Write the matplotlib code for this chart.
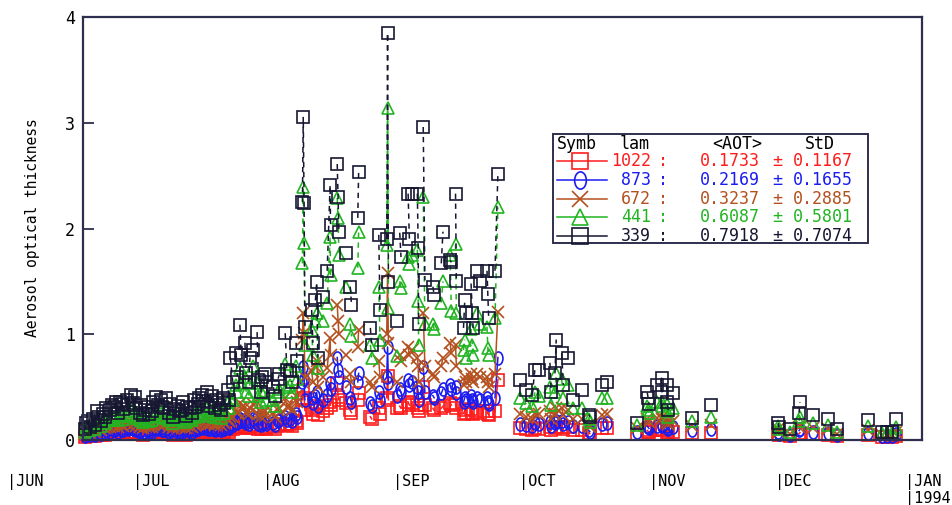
import numpy as np
import matplotlib
matplotlib.use("Agg")
import matplotlib.pyplot as plt
from matplotlib.path import Path
from matplotlib.transforms import Affine2D

# observation time, days since 1993-06-01 (fraction = time of day)
obs_day = [
    # Jun - Jul
    17.4, 17.7, 18.5, 19.4, 19.7, 20.5, 21.3, 21.7, 22.5, 23.3,
    23.7, 24.4, 25.3, 25.7, 26.5, 27.3, 27.6, 28.4, 29.3, 29.6,
    30.4, 31.3, 31.7, 32.4, 33.3, 34.4, 34.7, 35.5, 36.3, 37.4,
    38.3, 38.7, 39.5, 40.4, 41.4, 42.5, 43.4, 44.3, 45.3, 45.6,
    46.5, 47.4, 48.3, 49.4, 50.3, 51.5, 52.0, 52.6, 53.4, 54.3,
    54.6, 55.5, 55.8, 56.7, 57.4, 58.4, 58.7, 59.6, 60.6,
    # Aug - Sep
    62.3, 62.6, 63.4, 63.7, 65.1, 65.5, 66.3, 66.6, 67.7, 67.9,
    69.2, 69.4, 69.6, 69.8, 71.4, 71.7, 72.3, 72.6, 72.9, 74.1,
    75.1, 75.8, 75.9, 77.5, 77.7, 77.9, 79.6, 80.6, 80.9, 82.4,
    82.6, 85.4, 85.7, 87.4, 87.7, 89.3, 89.5, 89.7, 91.8, 92.4,
    92.7, 94.4, 94.7, 95.3, 96.6, 96.8, 96.9, 98.0, 98.4, 100.3,
    100.6, 102.3, 102.7, 104.4, 104.7, 105.7, 105.9, 107.6, 107.9, 108.2,
    109.4, 109.7, 109.9, 110.8, 111.5, 113.2, 113.4, 113.6, 115.1, 115.8,
    # Oct
    121.1, 122.5, 124.0, 124.6, 125.7, 128.2, 128.5, 129.4, 129.7, 131.0,
    131.4, 132.5, 133.7, 135.8, 137.5, 137.7, 140.6, 141.8,
    # Nov
    149.0, 151.4, 151.6, 151.8, 153.7, 154.8, 154.9, 156.0, 156.2, 156.4,
    157.5, 162.1, 166.6,
    # Dec
    182.6, 182.8, 185.4, 187.6, 187.8, 190.9, 194.5, 196.6, 204.0, 207.3,
    208.5, 209.7, 210.7,
    # more Jun - Jul readings
    18.2, 20.2, 22.2, 24.7, 26.2, 28.7, 30.7, 32.7, 33.6, 35.8,
    36.6, 37.7, 39.8, 40.7, 41.7, 42.8, 43.7, 44.6, 46.8, 47.7,
    48.6, 49.7, 50.6, 51.8, 53.7, 56.4, 59.3, 60.3,
]

aot_339 = [
    0.10, 0.16, 0.12, 0.20, 0.14, 0.22, 0.18, 0.25, 0.30, 0.28,
    0.33, 0.31, 0.26, 0.36, 0.29, 0.38, 0.33, 0.43, 0.41, 0.30,
    0.26, 0.24, 0.28, 0.31, 0.27, 0.41, 0.33, 0.38, 0.30, 0.26,
    0.22, 0.29, 0.32, 0.28, 0.23, 0.30, 0.38, 0.34, 0.43, 0.37,
    0.45, 0.36, 0.30, 0.33, 0.40, 0.47, 0.78, 0.55, 0.82, 1.09,
    0.80, 0.92, 0.63, 0.78, 0.85, 1.02, 0.57, 0.60, 0.55,
    0.50, 0.42, 0.58, 0.62, 1.01, 0.66, 0.65, 0.55, 0.92, 0.75,
    2.25, 3.05, 2.24, 1.07, 1.23, 0.92, 1.32, 1.49, 0.78, 1.35,
    1.60, 2.41, 2.03, 2.61, 2.30, 1.97, 1.77, 1.45, 1.28, 2.10,
    2.53, 1.06, 0.90, 1.94, 1.23, 1.90, 3.85, 1.49, 1.13, 1.96,
    1.73, 2.33, 1.90, 2.33, 2.33, 1.82, 1.10, 2.96, 1.51, 1.45,
    1.37, 1.67, 1.97, 1.70, 1.68, 2.33, 1.50, 1.06, 1.32, 1.20,
    1.48, 1.20, 1.06, 1.60, 1.50, 1.60, 1.38, 1.15, 1.60, 2.52,
    0.57, 0.47, 0.43, 0.66, 0.66, 0.73, 0.45, 0.63, 0.95, 0.82,
    0.52, 0.78, 0.38, 0.47, 0.24, 0.22, 0.52, 0.55,
    0.16, 0.45, 0.40, 0.34, 0.52, 0.59, 0.45, 0.52, 0.36, 0.28,
    0.44, 0.21, 0.33,
    0.16, 0.12, 0.10, 0.26, 0.36, 0.24, 0.20, 0.10, 0.19, 0.08,
    0.08, 0.08, 0.20,
    0.18, 0.27, 0.22, 0.36, 0.34, 0.35, 0.33, 0.25, 0.36, 0.31,
    0.40, 0.34, 0.27, 0.36, 0.31, 0.26, 0.31, 0.40, 0.32, 0.42,
    0.38, 0.28, 0.35, 0.38, 0.60, 0.55, 0.45, 0.62,
]

aot_441 = [
    0.08, 0.12, 0.09, 0.14, 0.10, 0.16, 0.13, 0.18, 0.20, 0.19,
    0.22, 0.21, 0.19, 0.24, 0.20, 0.25, 0.23, 0.28, 0.27, 0.21,
    0.19, 0.17, 0.20, 0.22, 0.19, 0.27, 0.23, 0.26, 0.21, 0.19,
    0.16, 0.20, 0.22, 0.20, 0.17, 0.21, 0.25, 0.24, 0.29, 0.26,
    0.30, 0.25, 0.22, 0.25, 0.30, 0.36, 0.40, 0.38, 0.52, 0.68,
    0.54, 0.60, 0.45, 0.54, 0.70, 0.54, 0.42, 0.44, 0.38,
    0.38, 0.32, 0.45, 0.48, 0.72, 0.50, 0.52, 0.45, 0.70, 0.58,
    1.67, 2.39, 1.86, 0.90, 1.04, 0.80, 1.13, 1.20, 0.68, 1.13,
    1.30, 1.92, 1.56, 2.29, 2.10, 1.75, 1.45, 1.10, 0.98, 1.63,
    1.97, 0.90, 0.78, 1.45, 0.95, 1.84, 3.14, 1.25, 0.79, 1.50,
    1.44, 1.73, 1.66, 1.75, 1.80, 1.31, 0.90, 2.30, 1.10, 1.10,
    1.05, 1.30, 1.50, 1.75, 1.22, 1.85, 1.20, 0.85, 0.95, 0.78,
    1.05, 0.90, 0.80, 1.20, 1.10, 1.07, 0.87, 0.80, 1.15, 2.20,
    0.40, 0.35, 0.32, 0.45, 0.42, 0.50, 0.33, 0.45, 0.63, 0.58,
    0.40, 0.52, 0.30, 0.30, 0.20, 0.17, 0.40, 0.40,
    0.14, 0.32, 0.28, 0.26, 0.36, 0.36, 0.32, 0.34, 0.27, 0.22,
    0.30, 0.18, 0.22,
    0.13, 0.10, 0.08, 0.18, 0.22, 0.16, 0.14, 0.08, 0.13, 0.07,
    0.07, 0.07, 0.12,
    0.13, 0.18, 0.16, 0.24, 0.23, 0.24, 0.22, 0.18, 0.24, 0.22,
    0.27, 0.23, 0.19, 0.25, 0.22, 0.19, 0.22, 0.27, 0.23, 0.28,
    0.27, 0.21, 0.26, 0.30, 0.45, 0.42, 0.36, 0.46,
]

aot_672 = [
    0.06, 0.09, 0.07, 0.10, 0.08, 0.11, 0.09, 0.12, 0.13, 0.12,
    0.14, 0.13, 0.12, 0.15, 0.13, 0.16, 0.15, 0.17, 0.16, 0.13,
    0.12, 0.11, 0.13, 0.14, 0.12, 0.17, 0.15, 0.16, 0.14, 0.12,
    0.11, 0.13, 0.14, 0.13, 0.11, 0.13, 0.16, 0.15, 0.18, 0.16,
    0.19, 0.16, 0.14, 0.16, 0.18, 0.20, 0.22, 0.22, 0.28, 0.35,
    0.30, 0.31, 0.26, 0.30, 0.34, 0.36, 0.25, 0.26, 0.24,
    0.26, 0.22, 0.28, 0.30, 0.40, 0.31, 0.32, 0.28, 0.42, 0.36,
    0.95, 1.20, 1.01, 0.60, 0.65, 0.55, 0.70, 0.75, 0.50, 0.60,
    0.68, 0.96, 0.80, 1.28, 1.13, 1.00, 0.80, 0.62, 0.55, 0.88,
    1.04, 0.55, 0.50, 0.75, 0.60, 1.00, 1.58, 0.92, 0.55, 0.80,
    0.75, 0.88, 0.80, 0.85, 0.78, 0.70, 0.55, 1.20, 0.70, 0.62,
    0.60, 0.70, 0.78, 0.92, 0.82, 0.90, 0.70, 0.52, 0.60, 0.55,
    0.62, 0.58, 0.55, 0.62, 0.60, 0.60, 0.55, 0.50, 0.62, 1.21,
    0.25, 0.22, 0.20, 0.26, 0.25, 0.27, 0.20, 0.25, 0.30, 0.30,
    0.24, 0.28, 0.20, 0.20, 0.14, 0.12, 0.24, 0.25,
    0.11, 0.20, 0.18, 0.17, 0.21, 0.22, 0.20, 0.20, 0.17, 0.15,
    0.18, 0.13, 0.14,
    0.10, 0.08, 0.06, 0.12, 0.14, 0.11, 0.10, 0.06, 0.09, 0.05,
    0.05, 0.05, 0.08,
    0.09, 0.12, 0.11, 0.15, 0.14, 0.15, 0.14, 0.12, 0.15, 0.14,
    0.17, 0.14, 0.12, 0.15, 0.14, 0.12, 0.14, 0.17, 0.15, 0.17,
    0.16, 0.14, 0.16, 0.18, 0.26, 0.25, 0.22, 0.27,
]

aot_873 = [
    0.04, 0.06, 0.05, 0.07, 0.05, 0.08, 0.06, 0.08, 0.09, 0.08,
    0.10, 0.09, 0.08, 0.10, 0.09, 0.11, 0.10, 0.11, 0.11, 0.09,
    0.08, 0.07, 0.08, 0.09, 0.08, 0.11, 0.10, 0.11, 0.09, 0.08,
    0.07, 0.09, 0.09, 0.08, 0.07, 0.09, 0.10, 0.10, 0.12, 0.11,
    0.12, 0.10, 0.09, 0.10, 0.12, 0.12, 0.14, 0.14, 0.17, 0.20,
    0.18, 0.18, 0.16, 0.18, 0.20, 0.21, 0.15, 0.16, 0.15,
    0.16, 0.14, 0.18, 0.19, 0.22, 0.19, 0.20, 0.18, 0.25, 0.22,
    0.55, 0.69, 0.58, 0.38, 0.40, 0.35, 0.42, 0.45, 0.32, 0.38,
    0.43, 0.54, 0.48, 0.78, 0.66, 0.60, 0.50, 0.40, 0.36, 0.55,
    0.63, 0.35, 0.32, 0.45, 0.38, 0.60, 0.88, 0.54, 0.42, 0.48,
    0.45, 0.57, 0.52, 0.55, 0.50, 0.45, 0.38, 0.69, 0.45, 0.42,
    0.40, 0.44, 0.48, 0.52, 0.48, 0.50, 0.44, 0.36, 0.40, 0.38,
    0.42, 0.38, 0.36, 0.40, 0.38, 0.40, 0.36, 0.34, 0.40, 0.78,
    0.15, 0.14, 0.13, 0.16, 0.15, 0.17, 0.13, 0.16, 0.18, 0.18,
    0.15, 0.17, 0.13, 0.13, 0.09, 0.08, 0.15, 0.16,
    0.08, 0.13, 0.12, 0.11, 0.13, 0.14, 0.13, 0.13, 0.11, 0.10,
    0.12, 0.09, 0.10,
    0.08, 0.06, 0.05, 0.09, 0.10, 0.08, 0.07, 0.05, 0.07, 0.04,
    0.04, 0.04, 0.06,
    0.06, 0.08, 0.07, 0.10, 0.09, 0.10, 0.09, 0.08, 0.10, 0.09,
    0.11, 0.09, 0.08, 0.10, 0.09, 0.08, 0.09, 0.11, 0.10, 0.11,
    0.10, 0.09, 0.10, 0.11, 0.16, 0.15, 0.14, 0.17,
]

aot_1022 = [
    0.03, 0.05, 0.04, 0.05, 0.04, 0.06, 0.05, 0.06, 0.07, 0.06,
    0.07, 0.07, 0.06, 0.08, 0.07, 0.08, 0.07, 0.08, 0.08, 0.06,
    0.06, 0.05, 0.06, 0.07, 0.06, 0.08, 0.07, 0.08, 0.07, 0.06,
    0.05, 0.06, 0.07, 0.06, 0.05, 0.06, 0.07, 0.07, 0.09, 0.08,
    0.09, 0.08, 0.07, 0.07, 0.08, 0.09, 0.10, 0.10, 0.12, 0.14,
    0.12, 0.13, 0.11, 0.12, 0.13, 0.14, 0.10, 0.11, 0.10,
    0.12, 0.10, 0.13, 0.14, 0.15, 0.14, 0.15, 0.13, 0.18, 0.16,
    0.38, 0.47, 0.40, 0.28, 0.28, 0.25, 0.30, 0.32, 0.24, 0.27,
    0.30, 0.36, 0.33, 0.54, 0.41, 0.38, 0.35, 0.28, 0.26, 0.38,
    0.44, 0.22, 0.20, 0.30, 0.25, 0.40, 0.61, 0.38, 0.30, 0.32,
    0.30, 0.36, 0.33, 0.35, 0.33, 0.30, 0.27, 0.50, 0.33, 0.30,
    0.28, 0.30, 0.32, 0.35, 0.33, 0.34, 0.30, 0.25, 0.28, 0.26,
    0.29, 0.26, 0.25, 0.27, 0.26, 0.27, 0.25, 0.24, 0.27, 0.57,
    0.11, 0.10, 0.09, 0.11, 0.10, 0.12, 0.09, 0.11, 0.12, 0.12,
    0.10, 0.12, 0.09, 0.09, 0.07, 0.06, 0.11, 0.11,
    0.06, 0.09, 0.08, 0.08, 0.09, 0.10, 0.09, 0.09, 0.08, 0.07,
    0.08, 0.07, 0.07,
    0.06, 0.05, 0.04, 0.06, 0.07, 0.06, 0.05, 0.04, 0.05, 0.03,
    0.03, 0.03, 0.04,
    0.04, 0.06, 0.05, 0.07, 0.07, 0.07, 0.07, 0.06, 0.07, 0.07,
    0.08, 0.07, 0.06, 0.07, 0.06, 0.06, 0.07, 0.08, 0.07, 0.08,
    0.07, 0.07, 0.07, 0.08, 0.11, 0.11, 0.10, 0.12,
]

lam_labels = ["1022", "873", "672", "441", "339"]
mean_aot = ["0.1733", "0.2169", "0.3237", "0.6087", "0.7918"]
std_aot = ["0.1167", "0.1655", "0.2885", "0.5801", "0.7074"]
month_names = ["JUN", "JUL", "AUG", "SEP", "OCT", "NOV", "DEC", "JAN"]
month_start = [0, 30, 61, 92, 122, 153, 183, 214]

MONO = "DejaVu Sans Mono"
FRAME = "#2e2e4e"

ellipse = Path(Affine2D().scale(0.68, 1.0).transform(Path.unit_circle().vertices),
               Path.unit_circle().codes)

series = [
    # values, colour, marker, size, linestyle
    (aot_1022, "#ff1c1c", "s", 8.6, "-"),
    (aot_873, "#1c1cf0", ellipse, 9.4, "-"),
    (aot_672, "#b4501e", "x", 8.6, "-"),
    (aot_441, "#22b422", "^", 8.6, (0, (3.5, 3))),
    (aot_339, "#161632", "s", 9.2, (0, (3.5, 3))),
]

order = np.argsort(obs_day, kind="stable")
days_sorted = np.asarray(obs_day)[order]


def with_day_breaks(days, vals):
    # points of one day are joined, a new day starts a new segment
    xs, ys = [], []
    prev = None
    for d, v in zip(days, vals):
        if prev is not None and int(d) != prev:
            xs.append(np.nan)
            ys.append(np.nan)
        xs.append(d)
        ys.append(v)
        prev = int(d)
    return xs, ys


fig = plt.figure(figsize=(9.53, 5.05), dpi=100)
ax = fig.add_axes([0.0871, 0.1287, 0.8804, 0.8376])

for vals, color, marker, ms, ls in series:
    xs, ys = with_day_breaks(days_sorted, np.asarray(vals)[order])
    ax.plot(xs, ys, color=color, lw=1.1, ls=ls, marker=marker, ms=ms,
            mfc="none", mec=color, mew=1.2, clip_on=False)

ax.set_xlim(16.9, 216.9)
ax.set_ylim(0, 4)
ax.set_xticks([])
ax.set_yticks([0, 1, 2, 3, 4])
ax.set_yticklabels(["0", "1", "2", "3", "4"], fontfamily=MONO, fontsize=12)
ax.tick_params(axis="y", direction="in", length=8, width=1.3, color=FRAME, pad=6)
for sp in ax.spines.values():
    sp.set_color(FRAME)
    sp.set_linewidth(1.6)

ax.text(-0.060, 0.502, "Aerosol optical thickness", transform=ax.transAxes,
        rotation=90, ha="center", va="center", fontfamily=MONO, fontsize=10.5)

# month labels below the frame
for name, d in zip(month_names, month_start):
    ax.annotate("|" + name, xy=(d, -0.0993), xycoords=("data", "axes fraction"),
                xytext=(-3.5, 0), textcoords="offset points", ha="left", va="center",
                fontfamily=MONO, fontsize=11, annotation_clip=False)
ax.annotate("|1994", xy=(month_start[-1], -0.139), xycoords=("data", "axes fraction"),
            xytext=(-3.5, 0), textcoords="offset points", ha="left", va="center",
            fontfamily=MONO, fontsize=11, annotation_clip=False)

# legend table
box = plt.Rectangle((0.5602, 0.4657), 0.3754, 0.2577, transform=ax.transAxes,
                    fill=True, facecolor="white", edgecolor=FRAME, lw=1.4, zorder=5,
                    clip_on=False)
ax.add_patch(box)
hdr_y = 0.6998
for txt, xpos in [("Symb", 0.565), ("lam", 0.640), ("<AOT>", 0.7497), ("StD", 0.8605)]:
    ax.text(xpos, hdr_y, txt, transform=ax.transAxes, ha="left", va="center",
            fontfamily=MONO, fontsize=12, zorder=6)
row_y = [0.6596, 0.6147, 0.5697, 0.5272, 0.4823]
for (vals, color, marker, ms, ls), lam, mu, sd, y in zip(series, lam_labels,
                                                         mean_aot, std_aot, row_y):
    ax.plot([0.5650, 0.6246], [y, y], transform=ax.transAxes, color=color,
            lw=1.1, clip_on=False, zorder=6)
    ax.plot([0.5924], [y], transform=ax.transAxes, color=color, marker=marker,
            ms=ms + 3, mfc="none", mec=color, mew=1.2, clip_on=False, zorder=6)
    ax.text(0.6770, y, lam, transform=ax.transAxes, ha="right", va="center",
            color=color, fontfamily=MONO, fontsize=12, zorder=6)
    ax.text(0.6913, y, ":", transform=ax.transAxes, ha="center", va="center",
            color=color, fontfamily=MONO, fontsize=12, zorder=6)
    ax.text(0.7354, y, mu, transform=ax.transAxes, ha="left", va="center",
            color=color, fontfamily=MONO, fontsize=12, zorder=6)
    ax.text(0.8272, y, "\u00b1", transform=ax.transAxes, ha="center", va="center",
            color=color, fontfamily=MONO, fontsize=12, zorder=6)
    ax.text(0.8462, y, sd, transform=ax.transAxes, ha="left", va="center",
            color=color, fontfamily=MONO, fontsize=12, zorder=6)

fig.savefig("out.png", dpi=100)
